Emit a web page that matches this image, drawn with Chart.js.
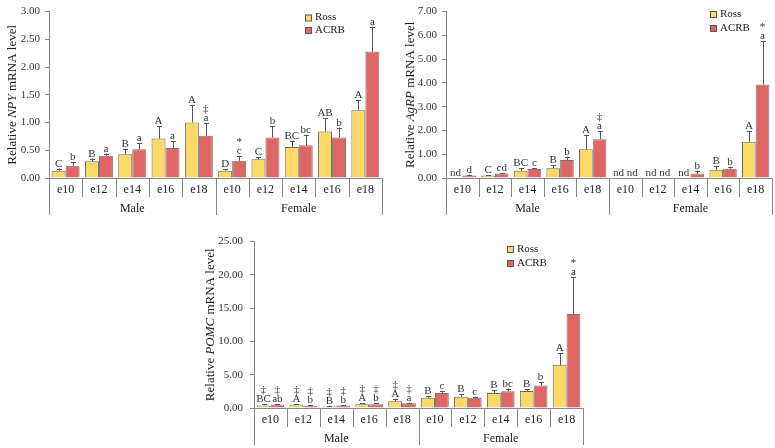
<!DOCTYPE html>
<html>
<head>
<meta charset="utf-8">
<script src="https://cdn.jsdelivr.net/npm/chart.js@4.4.1/dist/chart.umd.min.js"></script>
<style>
html, body { margin: 0; padding: 0; background: #fff; }
#wrap { position: relative; width: 775px; height: 448px; overflow: hidden; }
canvas { position: absolute; }
</style>
</head>
<body>
<div id="wrap">
  <canvas id="npyChart" width="390" height="220" style="left:0px;top:0px"></canvas>
  <canvas id="agrpChart" width="385" height="220" style="left:390px;top:0px"></canvas>
  <canvas id="pomcChart" width="410" height="220" style="left:180px;top:228px"></canvas>
</div>
<script>
// categories
var ages = ["e10", "e12", "e14", "e16", "e18", "e10", "e12", "e14", "e16", "e18"];
var sexes = ["Male", "Female"];
var breeds = ["Ross", "ACRB"];

// NPY
var npyRoss   = [0.13, 0.30, 0.43, 0.71, 1.00, 0.13, 0.34, 0.56, 0.84, 1.22];
var npyRossSd = [0.04, 0.05, 0.09, 0.22, 0.32, 0.03, 0.04, 0.10, 0.24, 0.19];
var npyAcrb   = [0.22, 0.40, 0.52, 0.54, 0.76, 0.31, 0.73, 0.59, 0.73, 2.28];
var npyAcrbSd = [0.06, 0.04, 0.11, 0.12, 0.23, 0.09, 0.20, 0.19, 0.18, 0.45];
var npyRossSig = ["C", "B", "B", "A", "A", "D", "C", "BC", "AB", "A"];
var npyAcrbSig = ["b", "a", "a", "a", ["‡", "a"], ["*", "c"], "b", "bc", "b", "a"];
var npyTicks = [0, 3, 0.5];

// AgRP (null = nd)
var agrpRoss   = [null, 0.10, 0.30, 0.41, 1.21, null, null, null, 0.35, 1.52];
var agrpRossSd = [0, 0.02, 0.12, 0.13, 0.60, 0, 0, 0, 0.14, 0.45];
var agrpAcrb   = [0.11, 0.19, 0.38, 0.76, 1.63, null, null, 0.19, 0.39, 3.93];
var agrpAcrbSd = [0.03, 0.03, 0.03, 0.14, 0.34, 0, 0, 0.12, 0.09, 1.84];
var agrpRossSig = ["nd", "C", "BC", "B", "A", "nd", "nd", "nd", "B", "A"];
var agrpAcrbSig = ["d", "cd", "c", "b", ["‡", "a"], "nd", "nd", "b", "b", ["*", "a"]];
var agrpTicks = [0, 7, 1];

// POMC
var pomcRoss   = [0.39, 0.53, 0.24, 0.58, 1.00, 1.55, 1.69, 2.27, 2.56, 6.48];
var pomcRossSd = [0.14, 0.10, 0.10, 0.14, 0.40, 0.29, 0.34, 0.44, 0.29, 1.79];
var pomcAcrb   = [0.53, 0.34, 0.39, 0.58, 0.72, 2.27, 1.55, 2.51, 3.38, 14.12];
var pomcAcrbSd = [0.05, 0.09, 0.04, 0.19, 0.10, 0.29, 0.14, 0.39, 0.49, 5.51];
var pomcRossSig = [["‡", "BC"], ["‡", "A"], ["‡", "B"], ["‡", "A"], ["‡", "A"], "B", "B", "B", "B", "A"];
var pomcAcrbSig = [["‡", "ab"], ["‡", "b"], ["‡", "b"], ["‡", "b"], ["‡", "a"], "c", "c", "bc", "b", ["*", "a"]];
var pomcTicks = [0, 25, 5];

var serif = "'Liberation Serif', 'Times New Roman', serif";
var rossColor = "#FFD966";
var acrbColor = "#E06666";
var lineColor = "#888";

// error bars + letters
var annotatePlugin = {
    id: "annotate",
    afterDatasetsDraw: function (chart) {
        var ctx = chart.ctx, xs = chart.scales.x, ys = chart.scales.y;
        var catW = (chart.chartArea.right - chart.chartArea.left) / ages.length;
        var barW = catW * 0.84 / 2;
        ctx.save();
        chart.data.datasets.forEach(function (ds, di) {
            ds.data.forEach(function (v, i) {
                var cx = xs.getPixelForValue(i) + (di === 0 ? -barW / 2 : barW / 2);
                var sd = ds.sd[i] || 0;
                var base = v == null ? 0 : v;
                var topY = ys.getPixelForValue(base + sd);
                if (v != null && sd > 0) {
                    ctx.strokeStyle = "#555";
                    ctx.lineWidth = 1;
                    ctx.beginPath();
                    ctx.moveTo(Math.round(cx) + 0.5, ys.getPixelForValue(v));
                    ctx.lineTo(Math.round(cx) + 0.5, topY);
                    ctx.moveTo(Math.round(cx) - 2, Math.round(topY) + 0.5);
                    ctx.lineTo(Math.round(cx) + 3, Math.round(topY) + 0.5);
                    ctx.stroke();
                }
                var lines = [].concat(ds.sig[i]);
                ctx.fillStyle = "#333";
                ctx.font = "11px " + serif;
                ctx.textAlign = "center";
                ctx.textBaseline = "alphabetic";
                var y = topY - 2;
                for (var k = lines.length - 1; k >= 0; k--) {
                    ctx.fillText(lines[k], cx, y);
                    y -= 9;
                }
            });
        });
        ctx.restore();
    }
};

// category box under the plot, y title, legend
var framePlugin = {
    id: "frame",
    afterDraw: function (chart) {
        var ctx = chart.ctx, ca = chart.chartArea, xs = chart.scales.x;
        var o = chart.options.plugins.frame;
        var n = ages.length;
        ctx.save();
        ctx.strokeStyle = lineColor;
        ctx.lineWidth = 1;
        ctx.beginPath();
        ctx.moveTo(ca.left, Math.round(ca.bottom) + 0.5);
        ctx.lineTo(ca.right, Math.round(ca.bottom) + 0.5);
        for (var i = 0; i <= n; i++) {
            var bx = i === 0 ? ca.left : i === n ? ca.right : (xs.getPixelForValue(i - 1) + xs.getPixelForValue(i)) / 2;
            var len = (i % (n / 2) === 0) ? 37 : 19;
            ctx.moveTo(Math.round(bx) + 0.5, ca.bottom);
            ctx.lineTo(Math.round(bx) + 0.5, ca.bottom + len);
        }
        ctx.stroke();

        ctx.fillStyle = "#222";
        ctx.textAlign = "center";
        ctx.textBaseline = "middle";
        ctx.font = "12px " + serif;
        ages.forEach(function (a, i) {
            ctx.fillText(a, xs.getPixelForValue(i), ca.bottom + 12);
        });
        var half = (ca.right - ca.left) / 2;
        sexes.forEach(function (s, j) {
            ctx.fillText(s, ca.left + half * j + half / 2, ca.bottom + 31);
        });

        // y title with italic gene name
        var parts = o.title;
        ctx.font = "13px " + serif;
        var w0 = ctx.measureText(parts[0]).width;
        var w2 = ctx.measureText(parts[2]).width;
        ctx.font = "italic 13px " + serif;
        var w1 = ctx.measureText(parts[1]).width;
        var total = w0 + w1 + w2;
        ctx.translate(o.titleX, (ca.top + ca.bottom) / 2);
        ctx.rotate(-Math.PI / 2);
        ctx.textAlign = "left";
        ctx.fillStyle = "#222";
        ctx.font = "13px " + serif;
        ctx.fillText(parts[0], -total / 2, 0);
        ctx.font = "italic 13px " + serif;
        ctx.fillText(parts[1], -total / 2 + w0, 0);
        ctx.font = "13px " + serif;
        ctx.fillText(parts[2], -total / 2 + w0 + w1, 0);
        ctx.setTransform(1, 0, 0, 1, 0, 0);

        // legend
        ctx.font = "11px " + serif;
        ctx.textBaseline = "middle";
        chart.data.datasets.forEach(function (ds, di) {
            var ly = o.legendY + di * o.legendGap;
            ctx.fillStyle = ds.backgroundColor;
            ctx.fillRect(o.legendX - 3, ly - 3, 6, 6);
            ctx.strokeStyle = "#555";
            ctx.strokeRect(o.legendX - 2.5, ly - 2.5, 6, 6);
            ctx.fillStyle = "#222";
            ctx.fillText(ds.label, o.legendX + 7, ly);
        });
        ctx.restore();
    }
};

function makeChart(id, ross, rossSd, rossSig, acrb, acrbSd, acrbSig, ticks, area, frame) {
    var cv = document.getElementById(id);
    return new Chart(cv, {
        type: "bar",
        data: {
            labels: ages.map(function (a, i) { return a + (i < 5 ? " M" : " F"); }),
            datasets: [{
                label: breeds[0],
                data: ross,
                sd: rossSd,
                sig: rossSig,
                backgroundColor: rossColor,
                borderColor: "#666",
                borderWidth: 1
            }, {
                label: breeds[1],
                data: acrb,
                sd: acrbSd,
                sig: acrbSig,
                backgroundColor: acrbColor,
                borderColor: "#777",
                borderWidth: 1
            }]
        },
        options: {
            responsive: false,
            animation: false,
            events: [],
            layout: {
                padding: { left: 0, top: area.top, right: cv.width - area.right, bottom: cv.height - area.bottom }
            },
            datasets: { bar: { categoryPercentage: 0.84, barPercentage: 1.0 } },
            scales: {
                x: { display: false },
                y: {
                    min: ticks[0],
                    max: ticks[1],
                    afterFit: function (scale) { scale.width = area.left; },
                    ticks: {
                        stepSize: ticks[2],
                        padding: area.tickPad,
                        color: "#333",
                        font: { family: serif, size: 11 },
                        callback: function (v) { return Number(v).toFixed(2); }
                    },
                    grid: { display: true, drawOnChartArea: false, drawTicks: true, tickLength: 4, color: lineColor },
                    border: { display: true, color: lineColor }
                }
            },
            plugins: {
                legend: { display: false },
                tooltip: { enabled: false },
                frame: frame
            }
        },
        plugins: [annotatePlugin, framePlugin]
    });
}

makeChart("npyChart", npyRoss, npyRossSd, npyRossSig, npyAcrb, npyAcrbSd, npyAcrbSig, npyTicks,
    { left: 49, right: 382, top: 6, bottom: 178, tickPad: 5 },
    { title: ["Relative ", "NPY", " mRNA level"], titleX: 13, legendX: 308, legendY: 17.5, legendGap: 12.5 });

makeChart("agrpChart", agrpRoss, agrpRossSd, agrpRossSig, agrpAcrb, agrpAcrbSd, agrpAcrbSig, agrpTicks,
    { left: 56, right: 382, top: 6, bottom: 178, tickPad: 5 },
    { title: ["Relative ", "AgRP", " mRNA level"], titleX: 21, legendX: 323, legendY: 14, legendGap: 14 });

makeChart("pomcChart", pomcRoss, pomcRossSd, pomcRossSig, pomcAcrb, pomcAcrbSd, pomcAcrbSig, pomcTicks,
    { left: 74, right: 403, top: 8, bottom: 180, tickPad: 7 },
    { title: ["Relative ", "POMC", " mRNA level"], titleX: 31, legendX: 330, legendY: 21, legendGap: 14 });
</script>
</body>
</html>
